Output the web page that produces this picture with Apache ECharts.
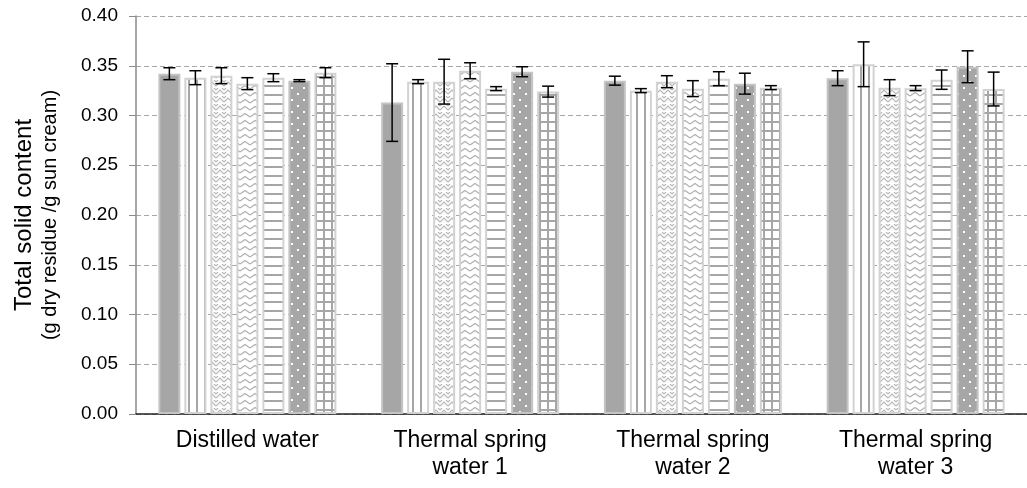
<!DOCTYPE html>
<html>
<head>
<meta charset="utf-8">
<script src="https://cdn.jsdelivr.net/npm/echarts@6/dist/echarts.min.js"></script>
<style>
  html, body { margin: 0; padding: 0; background: #fff; }
  #chart { width: 1027px; height: 488px; }
</style>
</head>
<body>
<div id="chart"></div>
<script>
const categories = ['Distilled water', 'Thermal spring\nwater 1', 'Thermal spring\nwater 2', 'Thermal spring\nwater 3']
const yTicks = [0, 0.05, 0.1, 0.15, 0.2, 0.25, 0.3, 0.35, 0.4]

// mean values, one array per series (bar order inside each group)
const s1 = [0.342, 0.313, 0.335, 0.3375]
const s2 = [0.338, 0.334, 0.325, 0.3515]
const s3 = [0.340, 0.334, 0.334, 0.328]
const s4 = [0.332, 0.345, 0.327, 0.3275]
const s5 = [0.338, 0.327, 0.337, 0.336]
const s6 = [0.335, 0.344, 0.332, 0.349]
const s7 = [0.343, 0.324, 0.328, 0.3266]

// standard deviations (error bar half heights)
const e1 = [0.006, 0.039, 0.0045, 0.0075]
const e2 = [0.007, 0.002, 0.002, 0.0225]
const e3 = [0.008, 0.0225, 0.006, 0.008]
const e4 = [0.006, 0.008, 0.008, 0.0025]
const e5 = [0.004, 0.002, 0.007, 0.0097]
const e6 = [0.001, 0.005, 0.0105, 0.016]
const e7 = [0.005, 0.0055, 0.002, 0.017]

const means = [s1, s2, s3, s4, s5, s6, s7]
const errs = [e1, e2, e3, e4, e5, e6, e7]

const BAR_W = 22
const BAR_GAP = 4
const GRAY = '#a6a6a6'

function pattern(w, h, draw) {
  const c = document.createElement('canvas')
  c.width = w
  c.height = h
  const ctx = c.getContext('2d')
  draw(ctx)
  return { image: c, repeat: 'repeat' }
}

const fills = [
  GRAY,
  // wide vertical stripes
  pattern(8, 8, ctx => {
    ctx.fillStyle = '#fff'; ctx.fillRect(0, 0, 8, 8)
    ctx.fillStyle = GRAY; ctx.fillRect(4, 0, 2, 8)
  }),
  // small lattice / weave
  pattern(8, 8, ctx => {
    ctx.fillStyle = '#fff'; ctx.fillRect(0, 0, 8, 8)
    ctx.strokeStyle = '#b4b4b4'; ctx.lineWidth = 1.1
    ctx.beginPath(); ctx.moveTo(0, 6); ctx.lineTo(4, 2); ctx.lineTo(8, 6); ctx.stroke()
    ctx.beginPath(); ctx.moveTo(0, 2); ctx.lineTo(2, 0); ctx.moveTo(6, 0); ctx.lineTo(8, 2); ctx.stroke()
  }),
  // zigzag
  pattern(10, 7, ctx => {
    ctx.fillStyle = '#fff'; ctx.fillRect(0, 0, 10, 7)
    ctx.strokeStyle = '#b0b0b0'; ctx.lineWidth = 1.2
    ctx.beginPath(); ctx.moveTo(0, 5); ctx.lineTo(5, 1.5); ctx.lineTo(10, 5); ctx.stroke()
  }),
  // horizontal stripes
  pattern(4, 9, ctx => {
    ctx.fillStyle = '#fff'; ctx.fillRect(0, 0, 4, 9)
    ctx.fillStyle = GRAY; ctx.fillRect(0, 4, 4, 2)
  }),
  // gray with white dots
  pattern(12, 12, ctx => {
    ctx.fillStyle = GRAY; ctx.fillRect(0, 0, 12, 12)
    ctx.fillStyle = '#fff'; ctx.fillRect(3, 3, 2, 2); ctx.fillRect(9, 9, 2, 2)
  }),
  // grid
  pattern(8, 9, ctx => {
    ctx.fillStyle = '#fff'; ctx.fillRect(0, 0, 8, 9)
    ctx.fillStyle = GRAY; ctx.fillRect(3, 0, 2, 9); ctx.fillRect(0, 4, 8, 2)
  })
]
const borders = ['#c4c4c4', '#d2d2d2', '#d2d2d2', '#d2d2d2', '#d2d2d2', '#c4c4c4', '#d2d2d2']

const chart = echarts.init(document.getElementById('chart'))

const barSeries = means.map((vals, i) => ({
  type: 'bar',
  data: vals,
  barWidth: BAR_W,
  barGap: (BAR_GAP / BAR_W * 100) + '%',
  itemStyle: { color: fills[i], borderColor: borders[i], borderWidth: 2 }
}))

const errData = []
means.forEach((vals, i) => {
  vals.forEach((v, c) => errData.push([c, v, errs[i][c], i]))
})

const errSeries = {
  type: 'custom',
  z: 10,
  data: errData,
  renderItem: (params, api) => {
    const c = api.value(0), v = api.value(1), e = api.value(2), s = api.value(3)
    const n = means.length
    const x = api.coord([c, v])[0] + (s - (n - 1) / 2) * (BAR_W + BAR_GAP)
    const yTop = api.coord([c, v + e])[1]
    const yBot = api.coord([c, v - e])[1]
    const cap = 6
    const style = { stroke: '#000', lineWidth: 1.5 }
    return {
      type: 'group',
      children: [
        { type: 'line', shape: { x1: x, y1: yTop, x2: x, y2: yBot }, style },
        { type: 'line', shape: { x1: x - cap, y1: yTop, x2: x + cap, y2: yTop }, style },
        { type: 'line', shape: { x1: x - cap, y1: yBot, x2: x + cap, y2: yBot }, style }
      ]
    }
  }
}

chart.setOption({
  animation: false,
  textStyle: { fontFamily: 'Liberation Sans, Arial, sans-serif' },
  grid: { left: 136, top: 16, bottom: 74, width: 900 },
  xAxis: {
    type: 'category',
    data: categories,
    axisLine: { lineStyle: { color: '#222', width: 1.5 } },
    axisTick: { length: 7, lineStyle: { color: '#222', width: 1.5 } },
    axisLabel: { color: '#000', fontSize: 23, lineHeight: 27, margin: 13 }
  },
  yAxis: {
    type: 'value',
    min: yTicks[0],
    max: yTicks[yTicks.length - 1],
    interval: 0.05,
    name: '{a|Total solid content}\n{b|(g dry residue /g sun cream)}',
    nameLocation: 'middle',
    nameRotate: 90,
    nameGap: 74,
    nameTextStyle: {
      rich: {
        a: { fontSize: 24, lineHeight: 28, color: '#000', align: 'center' },
        b: { fontSize: 20, lineHeight: 24, color: '#000', align: 'center' }
      }
    },
    axisLine: { show: true, lineStyle: { color: '#8a8a8a', width: 1.5 } },
    axisTick: { show: true, length: 7, lineStyle: { color: '#8a8a8a' } },
    axisLabel: { color: '#000', fontSize: 19, margin: 18, formatter: v => v.toFixed(2) },
    splitLine: { lineStyle: { color: '#a8a8a8', type: [5, 3], width: 1 } }
  },
  series: [...barSeries, errSeries]
})
</script>
</body>
</html>
